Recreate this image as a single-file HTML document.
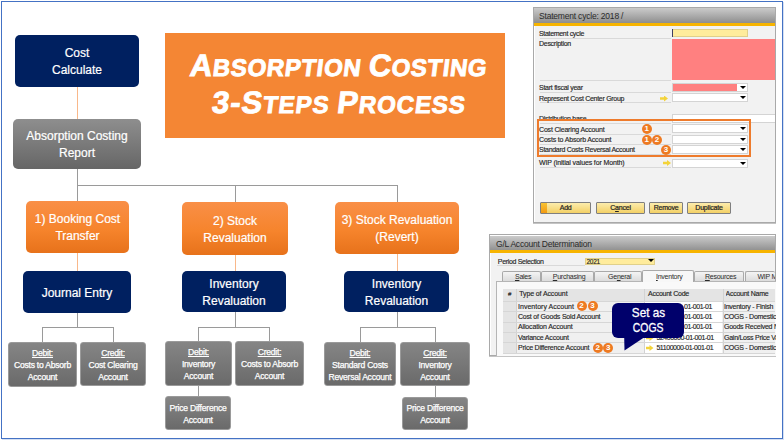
<!DOCTYPE html>
<html><head><meta charset="utf-8">
<style>
*{margin:0;padding:0;box-sizing:border-box}
html,body{width:784px;height:440px;background:#fff;overflow:hidden;font-family:"Liberation Sans",sans-serif}
.a{position:absolute}
#frame{left:1px;top:1px;width:782px;height:438px;border:1px solid #4472c4;box-shadow:1px 1px 0 #d5e0f3}
.bx{position:absolute;display:flex;flex-direction:column;align-items:center;justify-content:center;text-align:center;color:#fff;border-radius:5px;font-size:12px;line-height:17.3px;padding-top:2.8px;-webkit-text-stroke:0.2px #fff}
.navy{background:#002060}
.gray{background:linear-gradient(#8e8e8e,#666);}
.orng{background:linear-gradient(#f98f47,#f6842c 55%,#e7721b)}
.sm{position:absolute;display:flex;flex-direction:column;align-items:center;justify-content:center;text-align:center;color:#fff;border-radius:3px;font-size:8.6px;line-height:11.9px;letter-spacing:-0.24px;padding-top:3.2px;-webkit-text-stroke:0.25px #fff;background:linear-gradient(#858585,#6a6a6a);border:1px solid #9a9a9a}
.sm u{text-decoration:underline}
.vl{position:absolute;width:1px;background:#9a9a9a}
.hl{position:absolute;height:1px;background:#9a9a9a}
.ol{position:absolute;width:1px;background:#f9b88a}

.win{position:absolute;background:#f2f2f2;border:1px solid #a9a9a9;box-shadow:inset 1px 1px 0 #fff,0 1px 0 #c4c4c4}
.tbar{position:absolute;background:linear-gradient(#cbcbcb,#8e8e8e)}
.ostrip{position:absolute;background:#f7b400}
.tt{position:absolute;font-size:8.5px;line-height:10px;color:#2a2a2a;letter-spacing:-0.45px;white-space:nowrap}
.lb{position:absolute;font-size:7px;line-height:9px;color:#262626;letter-spacing:-0.25px;white-space:nowrap;-webkit-text-stroke:0.15px #262626}
.sep{position:absolute;height:1px;background:#d9d9d9}
.fld{position:absolute;background:#fff;border:1px solid #d4d4d4}
.tri{position:absolute;width:0;height:0;border-left:3.3px solid transparent;border-right:3.3px solid transparent;border-top:3.6px solid #000}
.yarr{position:absolute;width:8px;height:6px;background:#f3d33a;clip-path:polygon(0 30%,50% 30%,50% 0,100% 50%,50% 100%,50% 70%,0 70%)}
.num{position:absolute;width:10px;height:10px;border-radius:50%;background:#ee7a22;color:#fff;font-size:8px;line-height:10px;text-align:center;font-weight:bold}
.btn{position:absolute;height:12px;border:1px solid #7f7f7f;border-radius:1px;background:linear-gradient(#fcecac,#f3d065);font-size:7px;line-height:10px;text-align:center;color:#222;letter-spacing:-0.2px;-webkit-text-stroke:0.2px #222}
.tab{position:absolute;top:271.2px;height:10.4px;border:1px solid #a9a9a9;border-bottom:none;border-radius:2px 2px 0 0;background:linear-gradient(#f4f4f4,#d9d9d9);font-size:7px;line-height:10px;text-align:center;color:#2a2a2a;letter-spacing:-0.25px;white-space:nowrap;overflow:hidden;padding-left:3px}
.tab.act{top:269.6px;height:12.5px;background:#f7f7f7;line-height:12px}
.panel{position:absolute;background:#f9f9f9;border:1px solid #b5b5b5;border-right:none;border-bottom:none}
.bub{position:absolute;background:#00006b;border-radius:6px;color:#fff;font-size:13px;line-height:15px;text-align:center;padding-top:2.5px}
.bub span{display:inline-block;transform:scaleX(0.8);-webkit-text-stroke:0.3px #fff}
.ttl{position:absolute;transform:skewX(-7deg);transform-origin:0 100%;color:#fff;font-weight:bold;font-size:31px;line-height:34px;white-space:nowrap;-webkit-text-stroke:0.9px #fff}
.ttl span{font-size:24px}
.tab u,.btn u{text-decoration-thickness:0.5px;text-underline-offset:1px}
</style></head><body>
<div id="frame" class="a"></div>

<!-- connectors -->
<div class="ol" style="left:77px;top:87px;height:32px"></div>
<div class="vl" style="left:77px;top:168px;height:34px"></div>
<div class="hl" style="left:77px;top:185px;width:321px"></div>
<div class="vl" style="left:235px;top:185px;height:17px"></div>
<div class="vl" style="left:397px;top:185px;height:17px"></div>
<div class="ol" style="left:77px;top:253px;height:18px"></div>
<div class="ol" style="left:235px;top:254px;height:17px"></div>
<div class="ol" style="left:397px;top:254px;height:17px"></div>
<!-- col1 lower tree -->
<div class="vl" style="left:77px;top:313px;height:15px"></div>
<div class="hl" style="left:42px;top:327px;width:72px"></div>
<div class="vl" style="left:42px;top:327px;height:15px"></div>
<div class="vl" style="left:113px;top:327px;height:15px"></div>
<!-- col2 lower tree -->
<div class="vl" style="left:235px;top:312px;height:16px"></div>
<div class="hl" style="left:198px;top:327px;width:72px"></div>
<div class="vl" style="left:198px;top:327px;height:15px"></div>
<div class="vl" style="left:269px;top:327px;height:15px"></div>
<div class="vl" style="left:198px;top:386px;height:10px"></div>
<!-- col3 lower tree -->
<div class="vl" style="left:397px;top:312px;height:16px"></div>
<div class="hl" style="left:360px;top:327px;width:76px"></div>
<div class="vl" style="left:360px;top:327px;height:15px"></div>
<div class="vl" style="left:435px;top:327px;height:15px"></div>
<div class="vl" style="left:435px;top:386px;height:11px"></div>

<!-- boxes -->
<div class="bx navy" style="left:15px;top:35px;width:124px;height:52px">Cost<br>Calculate</div>
<div class="bx gray" style="left:13px;top:119px;width:128px;height:50px">Absorption Costing<br>Report</div>

<div class="bx orng" style="left:26px;top:201px;width:103px;height:52px">1) Booking Cost<br>Transfer</div>
<div class="bx orng" style="left:182px;top:202px;width:106px;height:53px">2) Stock<br>Revaluation</div>
<div class="bx orng" style="left:335px;top:202px;width:124px;height:52px">3) Stock Revaluation<br>(Revert)</div>

<div class="bx navy" style="left:23px;top:271px;width:108px;height:42px">Journal Entry</div>
<div class="bx navy" style="left:182px;top:271px;width:104px;height:41px">Inventory<br>Revaluation</div>
<div class="bx navy" style="left:344px;top:271px;width:105px;height:41px">Inventory<br>Revaluation</div>

<div class="sm" style="left:8px;top:342px;width:69px;height:45px"><u>Debit:</u>Costs to Absorb<br>Account</div>
<div class="sm" style="left:80px;top:342px;width:66px;height:44px"><u>Credit:</u>Cost Clearing<br>Account</div>

<div class="sm" style="left:165px;top:341px;width:67px;height:45px"><u>Debit:</u>Inventory<br>Account</div>
<div class="sm" style="left:235px;top:341px;width:69px;height:45px"><u>Credit:</u>Costs to Absorb<br>Account</div>
<div class="sm" style="left:165px;top:396px;width:66px;height:34px">Price Difference<br>Account</div>

<div class="sm" style="left:324px;top:342px;width:72px;height:44px"><u>Debit:</u>Standard Costs<br>Reversal Account</div>
<div class="sm" style="left:400px;top:342px;width:70px;height:44px"><u>Credit:</u>Inventory<br>Account</div>
<div class="sm" style="left:402px;top:397px;width:66px;height:33px">Price Difference<br>Account</div>

<!-- title -->
<div class="a" style="left:165px;top:33px;width:340px;height:105px;background:#f48634"></div>
<div class="ttl" style="left:188px;top:49px;letter-spacing:0.62px">A<span>BSORPTION </span>C<span>OSTING</span></div>
<div class="ttl" style="left:209.5px;top:86px;letter-spacing:0.95px">3-S<span>TEPS </span>P<span>ROCESS</span></div>

<div class="win" style="left:533px;top:7px;width:243px;height:216px"></div>
<div class="tbar" style="left:534px;top:8px;width:241px;height:15px"></div>
<div class="ostrip" style="left:534px;top:22.5px;width:241px;height:3.5px"></div>
<div class="tt" style="left:539px;top:11px;letter-spacing:-0.2px">Statement cycle: 2018 /</div>
<div class="sep" style="left:540px;top:37.5px;width:131px"></div>
<div class="sep" style="left:540px;top:80px;width:131px"></div>
<div class="sep" style="left:540px;top:92.2px;width:131px"></div>
<div class="sep" style="left:540px;top:102.4px;width:131px"></div>
<div class="sep" style="left:540px;top:123px;width:131px"></div>
<div class="sep" style="left:540px;top:133.5px;width:131px"></div>
<div class="sep" style="left:540px;top:143.8px;width:131px"></div>
<div class="sep" style="left:540px;top:154px;width:131px"></div>
<div class="sep" style="left:540px;top:167.2px;width:131px"></div>
<div class="lb" style="left:539px;top:29.0px;letter-spacing:-0.32px">Statement cycle</div>
<div class="lb" style="left:539px;top:39.1px;letter-spacing:-0.28px">Description</div>
<div class="lb" style="left:539px;top:83.3px;letter-spacing:-0.26px">Start fiscal year</div>
<div class="lb" style="left:539px;top:93.9px;letter-spacing:-0.29px">Represent Cost Center Group</div>
<div class="lb" style="left:539px;top:113.8px;letter-spacing:-0.28px">Distribution base</div>
<div class="lb" style="left:539px;top:124.9px;letter-spacing:-0.18px">Cost Clearing Account</div>
<div class="lb" style="left:539px;top:135.0px;letter-spacing:-0.17px">Costs to Absorb Account</div>
<div class="lb" style="left:539px;top:145.3px;letter-spacing:-0.29px">Standard Costs Reversal Account</div>
<div class="lb" style="left:539px;top:158.2px;letter-spacing:-0.13px">WIP (initial values for Month)</div>
<div class="fld" style="left:672px;top:28.7px;width:76px;height:8.3px;background:#ffec9c;border-color:#e0d08a"></div>
<div class="a" style="left:672px;top:29px;width:1px;height:8px;background:#404060"></div>
<div class="a" style="left:672px;top:39.3px;width:103px;height:40.5px;background:#ff8080"></div>
<div class="fld" style="left:671.5px;top:83px;width:76.5px;height:9px"></div><div class="a" style="left:672.5px;top:84px;width:64.5px;height:7px;background:#ff8080"></div><div class="tri" style="left:739.6px;top:85.8px"></div>
<div class="fld" style="left:671.5px;top:93px;width:76.5px;height:9px"></div><div class="tri" style="left:739.6px;top:96.1px"></div>
<div class="fld" style="left:671.5px;top:114px;width:103.5px;height:8.5px;border-right:none"></div>
<div class="fld" style="left:671.5px;top:124px;width:76.5px;height:9px"></div><div class="tri" style="left:739.6px;top:127.2px"></div>
<div class="fld" style="left:671.5px;top:135px;width:76.5px;height:9px"></div><div class="tri" style="left:739.6px;top:137.8px"></div>
<div class="fld" style="left:671.5px;top:145px;width:76.5px;height:9px"></div><div class="tri" style="left:739.6px;top:148.0px"></div>
<div class="fld" style="left:671.5px;top:159px;width:76.5px;height:8.5px"></div><div class="tri" style="left:739.6px;top:161.6px"></div>
<div class="yarr" style="left:660px;top:95.5px"></div>
<div class="yarr" style="left:663px;top:160px"></div>
<div class="a" style="left:537px;top:119.4px;width:213.8px;height:37.6px;border:2px solid #ee7b2c"></div>
<div class="num" style="left:641.7px;top:124.2px">1</div>
<div class="num" style="left:641.7px;top:134.5px">1</div>
<div class="num" style="left:651.9px;top:134.5px">2</div>
<div class="num" style="left:661.1px;top:144.9px">3</div>
<div class="btn" style="left:540px;top:202.2px;width:51.2px">Add</div>
<div class="btn" style="left:596.3px;top:202.2px;width:48.5px">C<u>a</u>ncel</div>
<div class="btn" style="left:648.8px;top:202.2px;width:34.6px">Remove</div>
<div class="btn" style="left:687.4px;top:202.2px;width:43.2px">Duplicate</div>
<div class="a" style="left:541px;top:203.2px;width:5.6px;height:10px;background:linear-gradient(#f7c332,#f39a12)"></div>
<div class="win" style="left:488.5px;top:233.5px;width:287.5px;height:122.5px"></div>
<div class="tbar" style="left:490.4px;top:235.6px;width:284.6px;height:15px"></div>
<div class="ostrip" style="left:490.4px;top:250.3px;width:284.6px;height:3px"></div>
<div class="tt" style="left:496px;top:239px;letter-spacing:-0.22px">G/L Account Determination</div>
<div class="lb" style="left:497.8px;top:256.8px;letter-spacing:-0.32px">Period Selection</div>
<div class="sep" style="left:497px;top:265.2px;width:88px"></div>
<div class="fld" style="left:584.8px;top:257.5px;width:70.3px;height:7.5px;background:#ffec9c;border-color:#e0d08a"></div>
<div class="lb" style="left:586.5px;top:256.8px;font-size:6.5px">2021</div>
<div class="tri" style="left:648.4px;top:259.3px"></div>
<div class="tab" style="left:502.4px;width:38.4px"><u>S</u>ales</div>
<div class="tab" style="left:540.8px;width:53.5px"><u>P</u>urchasing</div>
<div class="tab" style="left:594.3px;width:47.7px">Ge<u>n</u>eral</div>
<div class="tab" style="left:693.6px;width:50.9px"><u>R</u>esources</div>
<div class="tab" style="left:744.5px;width:30.5px;text-align:left;padding-left:12px;border-right:none">WIP M</div>
<div class="panel" style="left:496px;top:281.3px;width:280px;height:75px"></div>
<div class="tab act" style="left:642px;width:51.6px"><u>I</u>nventory</div>
<div class="a" style="left:503px;top:288.5px;width:272px;height:65.5px;background:#f0f0f0"></div>
<div class="a" style="left:503px;top:288.5px;width:272px;height:12px;background:#e4e4e4"></div>
<div class="a" style="left:503px;top:288.5px;width:13.4px;height:65.5px;background:#e4e4e4"></div>
<div class="a" style="left:644.4px;top:300.5px;width:78px;height:53.4px;background:#fff"></div>
<div class="a" style="left:516.4px;top:288.5px;width:1px;height:65.5px;background:#d2d2d2"></div>
<div class="a" style="left:644.4px;top:288.5px;width:1px;height:65.5px;background:#d2d2d2"></div>
<div class="a" style="left:722.5px;top:288.5px;width:1px;height:65.5px;background:#d2d2d2"></div>
<div class="a" style="left:503px;top:300.5px;width:272px;height:1px;background:#d6d6d6"></div>
<div class="a" style="left:503px;top:311px;width:272px;height:1px;background:#d6d6d6"></div>
<div class="a" style="left:503px;top:321.7px;width:272px;height:1px;background:#d6d6d6"></div>
<div class="a" style="left:503px;top:332px;width:272px;height:1px;background:#d6d6d6"></div>
<div class="a" style="left:503px;top:342.3px;width:272px;height:1px;background:#d6d6d6"></div>
<div class="a" style="left:503px;top:353px;width:272px;height:1px;background:#d6d6d6"></div>
<div class="lb" style="left:508px;top:289.5px;font-size:6px">#</div>
<div class="lb" style="left:519.2px;top:289.4px;letter-spacing:-0.1px">Type of Account</div>
<div class="lb" style="left:648px;top:289.4px;">Account Code</div>
<div class="lb" style="left:725.5px;top:289.4px;width:50px;overflow:hidden">Account Name</div>
<div class="lb" style="left:518px;top:301.7px;letter-spacing:0.02px">Inventory Account</div>
<div class="lb" style="left:656.4px;top:301.7px;left:681px;letter-spacing:-0.45px;left:684px">01-001-01</div>
<div class="lb" style="left:724px;top:301.7px;width:51.5px;overflow:hidden">Inventory - Finish</div>
<div class="lb" style="left:518px;top:311.8px;letter-spacing:-0.2px">Cost of Goods Sold Account</div>
<div class="lb" style="left:656.4px;top:311.8px;left:681px;letter-spacing:-0.45px;left:684px">01-001-01</div>
<div class="lb" style="left:724px;top:311.8px;width:51.5px;overflow:hidden">COGS - Domestic</div>
<div class="lb" style="left:518px;top:322.3px;letter-spacing:-0.15px">Allocation Account</div>
<div class="lb" style="left:656.4px;top:322.3px;left:681px;letter-spacing:-0.45px;left:684px">01-001-01</div>
<div class="lb" style="left:724px;top:322.3px;width:51.5px;overflow:hidden">Goods Received N</div>
<div class="lb" style="left:518px;top:332.9px;letter-spacing:-0.2px">Variance Account</div>
<div class="lb" style="left:656.4px;top:332.9px;letter-spacing:-0.45px">52400000-01-001-01</div>
<div class="lb" style="left:724px;top:332.9px;width:51.5px;overflow:hidden">Gain/Loss Price Va</div>
<div class="lb" style="left:518px;top:343.0px;letter-spacing:-0.22px">Price Difference Account</div>
<div class="lb" style="left:656.4px;top:343.0px;letter-spacing:-0.45px">51100000-01-001-01</div>
<div class="lb" style="left:724px;top:343.0px;width:51.5px;overflow:hidden">COGS - Domestic</div>
<div class="yarr" style="left:645.5px;top:345px"></div>
<div class="yarr" style="left:645.5px;top:335px"></div>
<div class="num" style="left:576.6px;top:301.0px">2</div>
<div class="num" style="left:587.5px;top:301.0px">3</div>
<div class="num" style="left:592.8px;top:342.5px">2</div>
<div class="num" style="left:603.3px;top:342.5px">3</div>
<div class="bub" style="left:612.2px;top:302.5px;width:72.3px;height:35.3px"><span style="transform:scaleX(0.9)">Set as</span><br><span>COGS</span></div>
<svg class="a" style="left:600px;top:330px" width="60" height="30"><path d="M24 0 L24.5 20.5 L44 7.5 Z" fill="#00006b"/></svg>
</body></html>
